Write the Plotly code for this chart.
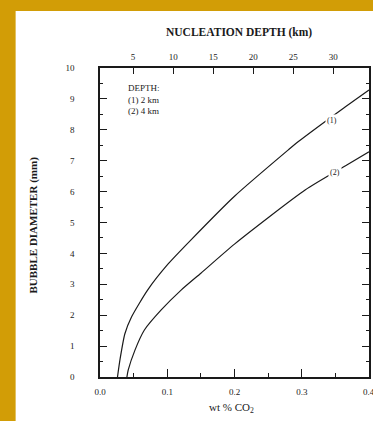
import plotly.graph_objects as go

# Data
co2_depth2 = [0.026, 0.030, 0.037, 0.047, 0.071, 0.101, 0.135, 0.200, 0.280, 0.295, 0.362, 0.400]
diam_depth2 = [0.0, 0.6, 1.4, 1.95, 2.82, 3.65, 4.43, 5.85, 7.35, 7.62, 8.70, 9.29]
co2_depth4 = [0.040, 0.042, 0.052, 0.066, 0.091, 0.121, 0.150, 0.200, 0.305, 0.367, 0.400]
diam_depth4 = [0.0, 0.23, 0.87, 1.52, 2.17, 2.82, 3.36, 4.3, 6.05, 6.86, 7.29]

x_ticks = [0.0, 0.1, 0.2, 0.3, 0.4]
x_tick_text = ["0.0", "0.1", "0.2", "0.3", "0.4"]
y_ticks = list(range(0, 11))
depth_ticks = [5, 10, 15, 20, 25, 30]

GOLD = "#D29D06"
INK = "#1a1a1a"
FONT = "Liberation Serif"

W, H = 373, 421
L, R, T, B = 100, 2, 68, 44
pw, ph = W - L - R, H - T - B

fig = go.Figure()
fig.add_trace(go.Scatter(x=co2_depth2, y=diam_depth2, mode="lines",
                         line=dict(color=INK, width=1.2, shape="spline", smoothing=0.6),
                         showlegend=False, hoverinfo="skip"))
fig.add_trace(go.Scatter(x=co2_depth4, y=diam_depth4, mode="lines",
                         line=dict(color=INK, width=1.2, shape="spline", smoothing=0.6),
                         showlegend=False, hoverinfo="skip"))
# invisible trace for top axis
fig.add_trace(go.Scatter(x=[depth_ticks[0]], y=[0], xaxis="x2", mode="markers",
                         marker=dict(opacity=0), showlegend=False, hoverinfo="skip"))

def px2paper_x(px):
    return (px - L) / pw

def py2paper_y(py):
    return (H - B - py) / ph

fig.add_shape(type="rect", xref="paper", yref="paper",
              x0=px2paper_x(15), x1=px2paper_x(380), y0=py2paper_y(430), y1=py2paper_y(11),
              fillcolor="white", line=dict(width=0), layer="below")

tickfont = dict(family=FONT, size=9, color=INK)
fig.update_layout(
    width=W, height=H,
    margin=dict(l=L, r=R, t=T, b=B),
    paper_bgcolor=GOLD, plot_bgcolor="white",
    font=dict(family=FONT, color=INK),
    xaxis=dict(range=[0, 0.4], tickvals=x_ticks[:-1], ticktext=x_tick_text[:-1],
               ticks="inside", ticklen=8, tickwidth=1, tickcolor=INK,
               minor=dict(ticks="inside", ticklen=4, dtick=0.05, tickcolor=INK),
               showline=True, linecolor=INK, linewidth=1.5, mirror=True,
               showgrid=False, zeroline=False, tickfont=tickfont,
               ticklabelstandoff=5),
    xaxis2=dict(range=[0.87, 34.45], overlaying="x", side="top",
                tickvals=depth_ticks, ticks="inside", ticklen=6, tickcolor=INK,
                showgrid=False, zeroline=False, showline=False,
                tickfont=tickfont, ticklabelstandoff=5),
    yaxis=dict(range=[0, 10], tickvals=y_ticks, ticks="inside", ticklen=7,
               tickwidth=1, tickcolor=INK,
               minor=dict(ticks="inside", ticklen=3, dtick=0.5, tickcolor=INK),
               showline=True, linecolor=INK, linewidth=1.5, mirror="ticks",
               showgrid=False, zeroline=False, tickfont=tickfont,
               ticklabelstandoff=22),
)

# last bottom tick label (runs off the right edge, as in the reference)
fig.add_annotation(x=x_ticks[-1], y=0, xref="x", yref="y", yshift=-15,
                   text=x_tick_text[-1], showarrow=False, xanchor="center",
                   font=tickfont)

anns = [
    dict(text="<b>NUCLEATION DEPTH (km)</b>", x=px2paper_x(240), y=py2paper_y(33),
         font=dict(size=11.5)),
    dict(text="<b>BUBBLE DIAMETER (mm)</b>", x=px2paper_x(33), y=py2paper_y(225),
         textangle=-90, font=dict(size=11)),
    dict(text="wt % CO<sub>2</sub>", x=px2paper_x(232), y=py2paper_y(408),
         font=dict(size=11)),
    dict(text="DEPTH:<br>(1) 2 km<br>(2) 4 km", x=px2paper_x(126), y=py2paper_y(81),
         xanchor="left", yanchor="top", align="left", font=dict(size=9)),
]
for a in anns:
    a.setdefault("xanchor", "center")
    a.setdefault("yanchor", "middle")
    fig.add_annotation(xref="paper", yref="paper", showarrow=False,
                       font=dict(family=FONT, color=INK, **a.pop("font")), **a)

# curve labels placed in gaps
fig.add_annotation(x=0.345, y=8.3, text="(1)", showarrow=False, bgcolor="white",
                   font=dict(family=FONT, size=8, color=INK), borderpad=1)
fig.add_annotation(x=0.350, y=6.62, text="(2)", showarrow=False, bgcolor="white",
                   font=dict(family=FONT, size=8, color=INK), borderpad=1)

fig.write_html("out.html")
